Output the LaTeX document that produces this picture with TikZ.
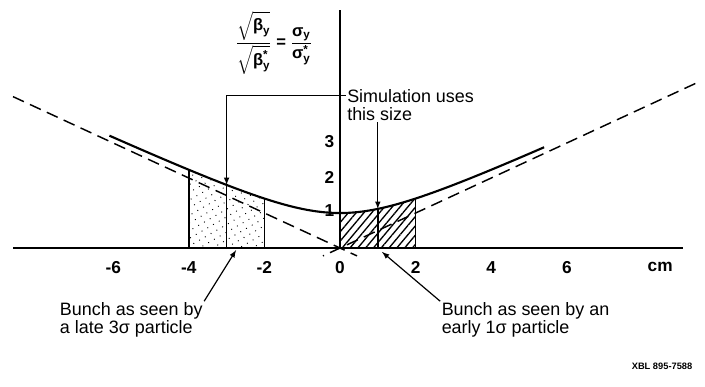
\documentclass[tikz,border=0pt]{standalone}
\usepackage{amsmath}
\usepackage{fontspec}
\setmainfont{Liberation Sans}
\usetikzlibrary{arrows}
\usetikzlibrary{patterns.meta}

\tikzset{
	envelope/.style={line width=1.6pt},
	asym/.style={line width=1.1pt, dash pattern=on 9pt off 5pt},
	conn/.style={-latex, line width=0.9pt},
	edge/.style={line width=1.1pt},
	num/.style={font=\fontsize{13}{15}\selectfont\bfseries},
	lbl/.style={font=\fontsize{13.5}{13.5}\selectfont, align=left, inner sep=1pt}
}
\newcommand{\bt}[1]{\text{\bfseries #1}}

\begin{document}
\begin{tikzpicture}[x=1cm,y=0.926cm]
		\useasboundingbox (-8.995,-3.943) rectangle (9.656,7.086);
		%% Invisibly Defining the Points
		\path
			(0,0)             coordinate (o)
			(-8.65,4.325)     coordinate (as_l)   % left asymptote end
			(9.4,4.7)         coordinate (as_r)   % right asymptote end
			(0.45,-0.225)     coordinate (as_lx)
			(-0.45,-0.225)    coordinate (as_rx)
			(-4,{sqrt(5)})    coordinate (c_m4)
			(-3,{sqrt(3.25)}) coordinate (c_m3)
			(-2,{sqrt(2)})    coordinate (c_m2)
			(1,{sqrt(1.25)})  coordinate (c_p1)
			(2,{sqrt(2)})     coordinate (c_p2)
			(-4,0) coordinate (b_m4)
			(-3,0) coordinate (b_m3)
			(-2,0) coordinate (b_m2)
			(1,0)  coordinate (b_p1)
			(2,0)  coordinate (b_p2)
			(-2.75,-0.06) coordinate (t_late)
			(1.11,-0.11)  coordinate (t_early);
		%% The shaded bunches
		\fill[pattern={Dots[radius=0.5pt,distance=5pt,angle=30]}]
			(b_m4) -- plot[domain=-4:-2,samples=20] (\x,{sqrt(1+(\x/2)^2)}) -- (b_m2) -- cycle;
		\fill[pattern={Lines[angle=50,distance=4.5pt,line width=1pt]}]
			(o) -- plot[domain=0:2,samples=20] (\x,{sqrt(1+(\x/2)^2)}) -- (b_p2) -- cycle;
		\draw[edge] (b_m4) -- (c_m4)
			(b_m2) -- (c_m2)
			(b_p2) -- (c_p2)
			(b_m3) -- (c_m3)
			(b_p1) -- (c_p1);
		%% The Axes
		\draw[line width=1.6pt] (-8.65,0) -- (9.07,0); % x-axis
		\draw[line width=1pt] (o) -- (0,6.8);          % y-axis
		%% Asymptotes and the envelope
		\draw[asym] (as_l) -- (as_lx);
		\draw[asym] (as_r) -- (as_rx);
		\draw[envelope] plot[domain=-6.1:5.4,samples=80,smooth] (\x,{sqrt(1+(\x/2)^2)});
		%% Tick labels
		\foreach \v in {-6,-4,-2,0,2,4,6}
			\node[num] (x\v) at (\v,-0.55) {\v};
		\node[num] (unit) at (8.47,-0.55) {cm};
		\foreach \v/\h in {1/1.07,2/2.03,3/3.05}
			\node[num] (y\v) at (-0.28,\h) {\v};
		%% Formula
		\node[font=\fontsize{12.5}{14}\selectfont, inner sep=0pt] (ratio) at (-1.75,5.85)
			{$\dfrac{\sqrt{\bt{β}_{\bt{y}}}}{\sqrt{\bt{β}^{\bt{*}}_{\bt{y}}}}
			\;\bt{=}\;\dfrac{\bt{σ}_{\bt{y}}}{\bt{σ}^{\bt{*}}_{\bt{y}}}$};
		%% Using Nodes for Labeling
		\node[lbl, anchor=west] (sim) at (0.15,4.09) {Simulation uses\\this size};
		\node[lbl, anchor=west] (late) at (-7.45,-2.06) {Bunch as seen by\\a late 3σ particle};
		\node[lbl, anchor=west] (early) at (2.65,-2.06) {Bunch as seen by an\\early 1σ particle};
		\node[font=\fontsize{7}{8}\selectfont\bfseries] (xbl) at (8.52,-3.37) {XBL 895-7588};
		%% Connecting with arrows
		\draw[conn] ([yshift=7pt]sim.west) -| (c_m3);
		\draw[conn] (sim.south -| c_p1) -- (c_p1);
		\draw[conn] (late.north east) -- (t_late);
		\draw[conn] (early.north west) -- (t_early);
\end{tikzpicture}
\end{document}
